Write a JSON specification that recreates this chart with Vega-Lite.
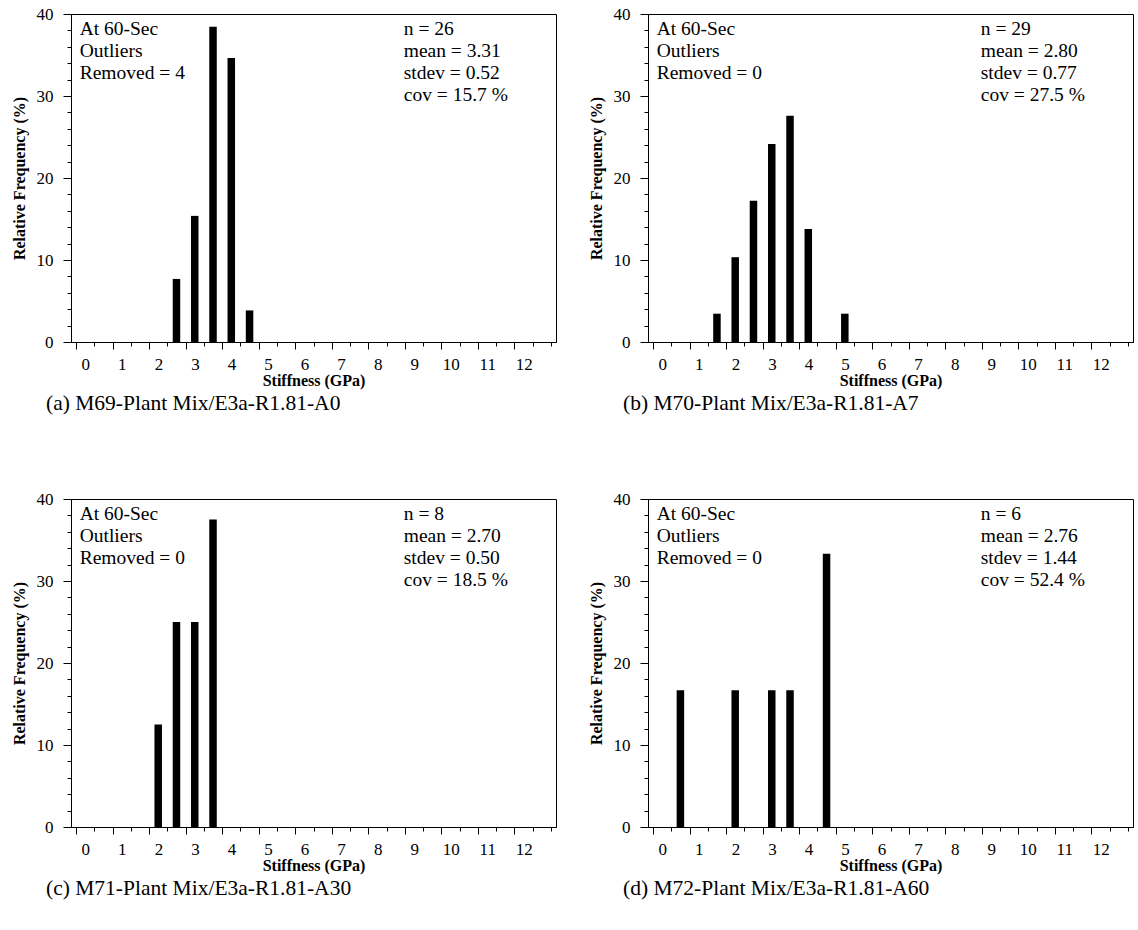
{
  "$schema": "https://vega.github.io/schema/vega-lite/v6.json",
  "padding": {"left": 10, "top": 4, "right": 0, "bottom": 0},
  "background": "white",
  "config": {
    "view": {"stroke": "black", "strokeWidth": 1},
    "font": "Liberation Serif",
    "axis": {
      "domainColor": "black", "tickColor": "black", "labelColor": "black", "titleColor": "black",
      "labelFont": "Liberation Serif", "titleFont": "Liberation Serif", "labelFontSize": 17,
      "titleFontSize": 16, "titleFontWeight": "bold", "grid": false, "labelOverlap": false,
      "labelFlush": false, "labelBound": false, "domainWidth": 1, "tickWidth": 1
    },
    "title": {"font": "Liberation Serif", "fontSize": 21.5, "fontWeight": "normal", "color": "black", "orient": "bottom", "anchor": "start", "frame": "group", "dx": -25, "offset": 5}
  },
  "datasets": {
    "bars": [
      {"panel": "a", "stiffness": 2.5, "freq": 7.69},
      {"panel": "a", "stiffness": 3.0, "freq": 15.38},
      {"panel": "a", "stiffness": 3.5, "freq": 38.46},
      {"panel": "a", "stiffness": 4.0, "freq": 34.62},
      {"panel": "a", "stiffness": 4.5, "freq": 3.85},
      {"panel": "b", "stiffness": 1.5, "freq": 3.45},
      {"panel": "b", "stiffness": 2.0, "freq": 10.34},
      {"panel": "b", "stiffness": 2.5, "freq": 17.24},
      {"panel": "b", "stiffness": 3.0, "freq": 24.14},
      {"panel": "b", "stiffness": 3.5, "freq": 27.59},
      {"panel": "b", "stiffness": 4.0, "freq": 13.79},
      {"panel": "b", "stiffness": 5.0, "freq": 3.45},
      {"panel": "c", "stiffness": 2.0, "freq": 12.5},
      {"panel": "c", "stiffness": 2.5, "freq": 25.0},
      {"panel": "c", "stiffness": 3.0, "freq": 25.0},
      {"panel": "c", "stiffness": 3.5, "freq": 37.5},
      {"panel": "d", "stiffness": 0.5, "freq": 16.67},
      {"panel": "d", "stiffness": 2.0, "freq": 16.67},
      {"panel": "d", "stiffness": 3.0, "freq": 16.67},
      {"panel": "d", "stiffness": 3.5, "freq": 16.67},
      {"panel": "d", "stiffness": 4.5, "freq": 33.33}
    ],
    "notes": [
      {"panel": "a", "stats": "At 60-Sec\nOutliers\nRemoved = 4", "summary": "n = 26\nmean = 3.31\nstdev = 0.52\ncov = 15.7 %"},
      {"panel": "b", "stats": "At 60-Sec\nOutliers\nRemoved = 0", "summary": "n = 29\nmean = 2.80\nstdev = 0.77\ncov = 27.5 %"},
      {"panel": "c", "stats": "At 60-Sec\nOutliers\nRemoved = 0", "summary": "n = 8\nmean = 2.70\nstdev = 0.50\ncov = 18.5 %"},
      {"panel": "d", "stats": "At 60-Sec\nOutliers\nRemoved = 0", "summary": "n = 6\nmean = 2.76\nstdev = 1.44\ncov = 52.4 %"}
    ]
  },
  "columns": 2,
  "spacing": {"row": 74, "column": 30},
  "concat": [
    {
      "width": 485, "height": 328,
      "title": {"text": "(a) M69-Plant Mix/E3a-R1.81-A0"},
      "resolve": {"axis": {"x": "independent", "y": "independent"}},
      "layer": [
        {
          "data": {"name": "bars"},
          "transform": [{"filter": "datum.panel === 'a'"}],
          "mark": {"type": "bar", "width": 7.5, "color": "black"},
          "encoding": {
            "x": {"field": "stiffness", "type": "quantitative", "scale": {"domain": [-0.25, 12.75], "nice": false, "zero": false},
              "axis": {"orient": "bottom", "title": "Stiffness (GPa)", "values": [-0.25,0.75,1.75,2.75,3.75,4.75,5.75,6.75,7.75,8.75,9.75,10.75,11.75],
                "labelExpr": "format(datum.value + 0.25, 'd')", "labelOverlap": false, "labelOffset": 9.33, "labelPadding": 7, "titlePadding": 0, "tickSize": 7}},
            "y": {"field": "freq", "type": "quantitative", "scale": {"domain": [0, 40], "nice": false},
              "axis": {"orient": "left", "title": "Relative Frequency (%)", "values": [0,10,20,30,40], "labelOverlap": false, "labelPadding": 10, "titlePadding": 9, "tickSize": 8}}
          }
        },
        {
          "data": {"name": "notes"},
          "transform": [{"filter": "datum.panel === 'a'"}],
          "mark": {"type": "text", "align": "left", "baseline": "alphabetic", "lineBreak": "\n", "lineHeight": 22, "fontSize": 19.5, "font": "Liberation Serif", "color": "black"},
          "encoding": {
            "x": {"datum": -0.15, "type": "quantitative", "axis": {"orient": "bottom", "title": null, "labels": false, "domain": false, "tickSize": 4, "values": [0.25,1.25,2.25,3.25,4.25,5.25,6.25,7.25,8.25,9.25,10.25,11.25,12.25,12.75]}},
            "y": {"datum": 37.44, "type": "quantitative", "axis": {"orient": "left", "title": null, "labels": false, "domain": false, "tickSize": 4, "values": [2,4,6,8,12,14,16,18,22,24,26,28,32,34,36,38]}},
            "text": {"field": "stats"}}
        },
        {
          "data": {"name": "notes"},
          "transform": [{"filter": "datum.panel === 'a'"}],
          "mark": {"type": "text", "align": "left", "baseline": "alphabetic", "lineBreak": "\n", "lineHeight": 22, "fontSize": 19.5, "font": "Liberation Serif", "color": "black"},
          "encoding": {"x": {"datum": 8.72, "type": "quantitative", "axis": null}, "y": {"datum": 37.44, "type": "quantitative", "axis": null}, "text": {"field": "summary"}}
        }
      ]
    },
    {
      "width": 485, "height": 328,
      "title": {"text": "(b) M70-Plant Mix/E3a-R1.81-A7"},
      "resolve": {"axis": {"x": "independent", "y": "independent"}},
      "layer": [
        {
          "data": {"name": "bars"},
          "transform": [{"filter": "datum.panel === 'b'"}],
          "mark": {"type": "bar", "width": 7.5, "color": "black"},
          "encoding": {
            "x": {"field": "stiffness", "type": "quantitative", "scale": {"domain": [-0.25, 12.75], "nice": false, "zero": false},
              "axis": {"orient": "bottom", "title": "Stiffness (GPa)", "values": [-0.25,0.75,1.75,2.75,3.75,4.75,5.75,6.75,7.75,8.75,9.75,10.75,11.75],
                "labelExpr": "format(datum.value + 0.25, 'd')", "labelOverlap": false, "labelOffset": 9.33, "labelPadding": 7, "titlePadding": 0, "tickSize": 7}},
            "y": {"field": "freq", "type": "quantitative", "scale": {"domain": [0, 40], "nice": false},
              "axis": {"orient": "left", "title": "Relative Frequency (%)", "values": [0,10,20,30,40], "labelOverlap": false, "labelPadding": 10, "titlePadding": 9, "tickSize": 8}}
          }
        },
        {
          "data": {"name": "notes"},
          "transform": [{"filter": "datum.panel === 'b'"}],
          "mark": {"type": "text", "align": "left", "baseline": "alphabetic", "lineBreak": "\n", "lineHeight": 22, "fontSize": 19.5, "font": "Liberation Serif", "color": "black"},
          "encoding": {
            "x": {"datum": -0.15, "type": "quantitative", "axis": {"orient": "bottom", "title": null, "labels": false, "domain": false, "tickSize": 4, "values": [0.25,1.25,2.25,3.25,4.25,5.25,6.25,7.25,8.25,9.25,10.25,11.25,12.25,12.75]}},
            "y": {"datum": 37.44, "type": "quantitative", "axis": {"orient": "left", "title": null, "labels": false, "domain": false, "tickSize": 4, "values": [2,4,6,8,12,14,16,18,22,24,26,28,32,34,36,38]}},
            "text": {"field": "stats"}}
        },
        {
          "data": {"name": "notes"},
          "transform": [{"filter": "datum.panel === 'b'"}],
          "mark": {"type": "text", "align": "left", "baseline": "alphabetic", "lineBreak": "\n", "lineHeight": 22, "fontSize": 19.5, "font": "Liberation Serif", "color": "black"},
          "encoding": {"x": {"datum": 8.72, "type": "quantitative", "axis": null}, "y": {"datum": 37.44, "type": "quantitative", "axis": null}, "text": {"field": "summary"}}
        }
      ]
    },
    {
      "width": 485, "height": 328,
      "title": {"text": "(c) M71-Plant Mix/E3a-R1.81-A30"},
      "resolve": {"axis": {"x": "independent", "y": "independent"}},
      "layer": [
        {
          "data": {"name": "bars"},
          "transform": [{"filter": "datum.panel === 'c'"}],
          "mark": {"type": "bar", "width": 7.5, "color": "black"},
          "encoding": {
            "x": {"field": "stiffness", "type": "quantitative", "scale": {"domain": [-0.25, 12.75], "nice": false, "zero": false},
              "axis": {"orient": "bottom", "title": "Stiffness (GPa)", "values": [-0.25,0.75,1.75,2.75,3.75,4.75,5.75,6.75,7.75,8.75,9.75,10.75,11.75],
                "labelExpr": "format(datum.value + 0.25, 'd')", "labelOverlap": false, "labelOffset": 9.33, "labelPadding": 7, "titlePadding": 0, "tickSize": 7}},
            "y": {"field": "freq", "type": "quantitative", "scale": {"domain": [0, 40], "nice": false},
              "axis": {"orient": "left", "title": "Relative Frequency (%)", "values": [0,10,20,30,40], "labelOverlap": false, "labelPadding": 10, "titlePadding": 9, "tickSize": 8}}
          }
        },
        {
          "data": {"name": "notes"},
          "transform": [{"filter": "datum.panel === 'c'"}],
          "mark": {"type": "text", "align": "left", "baseline": "alphabetic", "lineBreak": "\n", "lineHeight": 22, "fontSize": 19.5, "font": "Liberation Serif", "color": "black"},
          "encoding": {
            "x": {"datum": -0.15, "type": "quantitative", "axis": {"orient": "bottom", "title": null, "labels": false, "domain": false, "tickSize": 4, "values": [0.25,1.25,2.25,3.25,4.25,5.25,6.25,7.25,8.25,9.25,10.25,11.25,12.25,12.75]}},
            "y": {"datum": 37.44, "type": "quantitative", "axis": {"orient": "left", "title": null, "labels": false, "domain": false, "tickSize": 4, "values": [2,4,6,8,12,14,16,18,22,24,26,28,32,34,36,38]}},
            "text": {"field": "stats"}}
        },
        {
          "data": {"name": "notes"},
          "transform": [{"filter": "datum.panel === 'c'"}],
          "mark": {"type": "text", "align": "left", "baseline": "alphabetic", "lineBreak": "\n", "lineHeight": 22, "fontSize": 19.5, "font": "Liberation Serif", "color": "black"},
          "encoding": {"x": {"datum": 8.72, "type": "quantitative", "axis": null}, "y": {"datum": 37.44, "type": "quantitative", "axis": null}, "text": {"field": "summary"}}
        }
      ]
    },
    {
      "width": 485, "height": 328,
      "title": {"text": "(d) M72-Plant Mix/E3a-R1.81-A60"},
      "resolve": {"axis": {"x": "independent", "y": "independent"}},
      "layer": [
        {
          "data": {"name": "bars"},
          "transform": [{"filter": "datum.panel === 'd'"}],
          "mark": {"type": "bar", "width": 7.5, "color": "black"},
          "encoding": {
            "x": {"field": "stiffness", "type": "quantitative", "scale": {"domain": [-0.25, 12.75], "nice": false, "zero": false},
              "axis": {"orient": "bottom", "title": "Stiffness (GPa)", "values": [-0.25,0.75,1.75,2.75,3.75,4.75,5.75,6.75,7.75,8.75,9.75,10.75,11.75],
                "labelExpr": "format(datum.value + 0.25, 'd')", "labelOverlap": false, "labelOffset": 9.33, "labelPadding": 7, "titlePadding": 0, "tickSize": 7}},
            "y": {"field": "freq", "type": "quantitative", "scale": {"domain": [0, 40], "nice": false},
              "axis": {"orient": "left", "title": "Relative Frequency (%)", "values": [0,10,20,30,40], "labelOverlap": false, "labelPadding": 10, "titlePadding": 9, "tickSize": 8}}
          }
        },
        {
          "data": {"name": "notes"},
          "transform": [{"filter": "datum.panel === 'd'"}],
          "mark": {"type": "text", "align": "left", "baseline": "alphabetic", "lineBreak": "\n", "lineHeight": 22, "fontSize": 19.5, "font": "Liberation Serif", "color": "black"},
          "encoding": {
            "x": {"datum": -0.15, "type": "quantitative", "axis": {"orient": "bottom", "title": null, "labels": false, "domain": false, "tickSize": 4, "values": [0.25,1.25,2.25,3.25,4.25,5.25,6.25,7.25,8.25,9.25,10.25,11.25,12.25,12.75]}},
            "y": {"datum": 37.44, "type": "quantitative", "axis": {"orient": "left", "title": null, "labels": false, "domain": false, "tickSize": 4, "values": [2,4,6,8,12,14,16,18,22,24,26,28,32,34,36,38]}},
            "text": {"field": "stats"}}
        },
        {
          "data": {"name": "notes"},
          "transform": [{"filter": "datum.panel === 'd'"}],
          "mark": {"type": "text", "align": "left", "baseline": "alphabetic", "lineBreak": "\n", "lineHeight": 22, "fontSize": 19.5, "font": "Liberation Serif", "color": "black"},
          "encoding": {"x": {"datum": 8.72, "type": "quantitative", "axis": null}, "y": {"datum": 37.44, "type": "quantitative", "axis": null}, "text": {"field": "summary"}}
        }
      ]
    }
  ]
}
